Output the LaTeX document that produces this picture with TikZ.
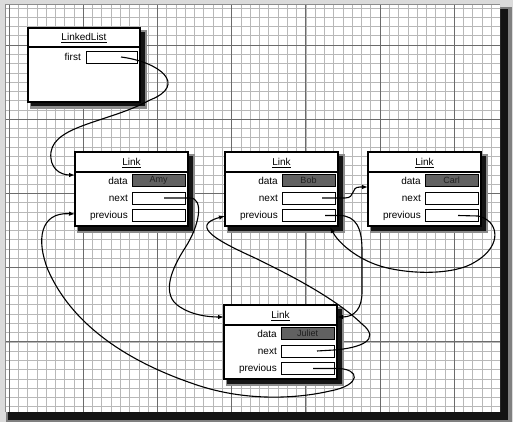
\documentclass[tikz,border=0pt]{standalone}
\usepackage{fontspec}
\setmainfont{Liberation Sans}
\usetikzlibrary{calc,arrows.meta}
\tikzset{
  minorgrid/.style={draw=black!28, line width=0.6pt},
  majorgrid/.style={draw=black!58, line width=0.8pt},
  boxnode/.style={draw=black, line width=1.3pt, fill=white, minimum width=113pt, minimum height=74pt, inner sep=0pt, outer sep=0pt},
  fieldbox/.style={draw=black, line width=0.9pt, fill=white, minimum width=53pt, minimum height=12pt, inner sep=0pt, outer sep=0pt},
  datafield/.style={fieldbox, fill=black!62, text=black!88, font=\fontsize{9}{10}\selectfont},
  lbl/.style={anchor=east, inner sep=0pt, font=\fontsize{10}{12}\selectfont},
  ttl/.style={inner sep=0pt, font=\fontsize{10}{12}\selectfont},
  ptr/.style={line width=1.1pt, -{Latex[length=6pt,width=4.5pt]}},
  shadowhalo/.style={fill=black!45},
  shadowcore/.style={fill=black!92},
}
\newcommand\linkbox[4]{%
 \begin{scope}[shift={(#2,#3)}]
  \fill[shadowhalo] (2,2) rectangle (120,81);
  \fill[shadowcore] (3,4) rectangle (117.5,78.5);
  \node[boxnode, anchor=north west] (#1) at (0,0) {};
  \node[ttl] (#1Title) at (56.5,11) {\underline{Link}};
  \draw[line width=1.1pt] (0,20) -- (113,20);
  \node[datafield, anchor=north west] (#1Data) at (57,22.5) {#4};
  \node[fieldbox, anchor=north west] (#1Next) at (57,40) {};
  \node[fieldbox, anchor=north west] (#1Prev) at (57,57.5) {};
  \node[lbl] (#1DL) at (53,28.5) {data};
  \node[lbl] (#1NL) at (53,46) {next};
  \node[lbl] (#1PL) at (53,63.5) {previous};
 \end{scope}}
\begin{document}
\begin{tikzpicture}[x=1pt,y=-1pt]
\useasboundingbox (0,0) rectangle (513,422);
% paper and its shadow
\fill[black!14] (0,0) rectangle (513,422);
\fill[black!50] (6,7) rectangle (512,422);
\fill[black!92] (8,9) rectangle (508,420);
\fill[white] (5,5) rectangle (500,412);
\begin{scope}
 \clip (5,5) rectangle (500,412);
 \foreach \i in {0,...,53} { \draw[minorgrid] ({9+9.275*\i},5) -- ({9+9.275*\i},412); }
 \foreach \j in {0,...,44} { \draw[minorgrid] (5,{7.9+9.275*\j}) -- (500,{7.9+9.275*\j}); }
 \foreach \i in {0,...,6} { \draw[majorgrid] ({9+74.2*\i},5) -- ({9+74.2*\i},412); }
 \foreach \j in {0,...,4} { \draw[majorgrid] (5,{45+74.2*\j}) -- (500,{45+74.2*\j}); }
\end{scope}
\draw[black!45, line width=1pt] (5,412) -- (5,5) -- (500,5);
% LinkedList box
\begin{scope}[shift={(28,28)}]
  \fill[shadowhalo] (2,2) rectangle (119,81);
  \fill[shadowcore] (3,4) rectangle (116.5,78.5);
  \node[boxnode, minimum width=112pt, anchor=north west] (list) at (0,0) {};
  \node[ttl] (listTitle) at (56,10) {\underline{LinkedList}};
  \draw[line width=1.1pt] (0,19) -- (112,19);
  \node[fieldbox, minimum width=51pt, anchor=north west] (firstF) at (58,23) {};
  \node[lbl] (firstL) at (53,29) {first};
\end{scope}
% Link boxes
\linkbox{amy}{75}{152}{Amy}
\linkbox{bob}{225}{152}{Bob}
\linkbox{carl}{368}{152}{Carl}
\linkbox{juliet}{224}{305}{Juliet}
% pointers
\draw[ptr] ($(firstF.east)+(-16,0)$) .. controls (160,62) and (188,85) .. (150,100)
   .. controls (110,122) and (55,125) .. (51,152) .. controls (49,168) and (60,175) .. ($(amy.north west)+(0,23)$);
\draw[ptr] ($(amyNext.east)+(-21,0)$) -- (190,198) .. controls (204,198) and (200,225) .. (185,248)
   .. controls (172,268) and (160,295) .. (180,307) .. controls (192,315) and (208,317) .. ($(juliet.north west)+(0,12)$);
\draw[ptr] ($(julietPrev.east)+(-21,0)$) -- (338,368.5) .. controls (360,369) and (362,385) .. (330,391)
   .. controls (300,398) and (250,402) .. (200,386) .. controls (120,360) and (70,320) .. (48,270)
   .. controls (36,240) and (40,212) .. ($(amy.north west)+(0,62)$);
\draw[ptr] ($(julietNext.east)+(-17,0)$) -- (334,350) .. controls (360,348) and (382,340) .. (362,324)
   .. controls (335,298) and (290,275) .. (255,258) .. controls (220,242) and (188,226) .. ($(bob.north west)+(0,64)$);
\draw[ptr] ($(bobNext.east)+(-13,0)$) -- (345,198) .. controls (356,198) and (350,187) .. (360,187) -- ($(carl.north west)+(0,35)$);
\draw[ptr] ($(bobPrev.east)+(-10,0)$) -- (340,215.5) .. controls (356,216) and (362,228) .. (362,250) -- (362,292)
   .. controls (362,308) and (355,317) .. ($(juliet.north east)+(0,12)$);
\draw[ptr] ($(carlPrev.east)+(-20,0)$) -- (478,216) .. controls (498,220) and (504,245) .. (475,262)
   .. controls (455,275) and (410,275) .. (380,266) .. controls (355,258) and (338,242) .. ($(bob.south east)+(-8,1)$);
\end{tikzpicture}
\end{document}
